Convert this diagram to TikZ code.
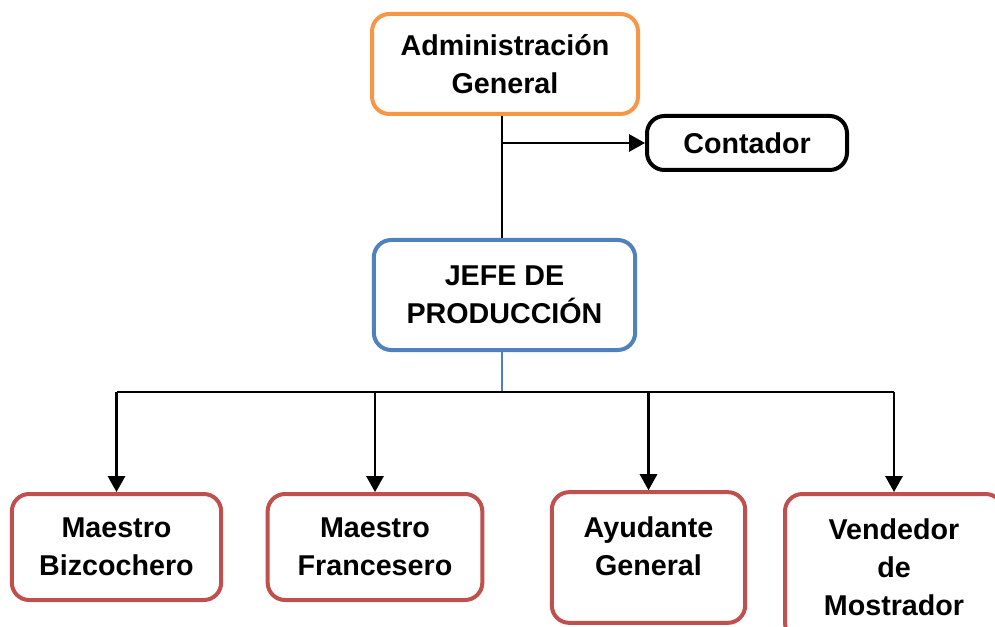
\documentclass[tikz,border=0pt]{standalone}
\usepackage{fontspec}
\setmainfont{Liberation Sans}
\usetikzlibrary{arrows.meta}

\definecolor{naranja}{HTML}{F79646}
\definecolor{azul}{HTML}{4F81BD}
\definecolor{rojo}{HTML}{C0504D}

\tikzset{
	caja/.style={draw, rounded corners=13pt, line width=3pt, align=center, inner sep=0pt,
		font=\fontsize{21.5}{28.5}\selectfont\bfseries},
	flecha/.style={line width=1.6pt, -{Triangle[length=12pt,width=13pt]}}
}

\begin{document}
\begin{tikzpicture}[x=0.75pt, y=-0.75pt]
	\useasboundingbox (0,0) rectangle (995,627);
	\clip (0,0) rectangle (995,627);
	\node[caja, naranja, text=black, minimum width=199.5pt, minimum height=75pt](admin) at (505,64){Administración\\General};
	\node[caja, black, minimum width=150pt, minimum height=40.5pt](contador) at (747,143){Contador};
	\node[caja, azul, text=black, minimum width=196pt, minimum height=82.5pt](jefe) at (504.5,295){JEFE DE\\PRODUCCIÓN};
	\node[caja, rojo, text=black, minimum width=157pt, minimum height=79.5pt](bizco) at (116.5,547){Maestro\\Bizcochero};
	\node[caja, rojo, text=black, minimum width=161pt, minimum height=79.5pt](franc) at (375,547){Maestro\\Francesero};
	\node[caja, rojo, text=black, minimum width=145pt, minimum height=98pt, text depth=17pt](ayud) at (648.5,557.5){Ayudante\\General};
	\node[caja, rojo, text=black, minimum width=163.5pt, minimum height=109.5pt](vend) at (894,567){Vendedor\\de\\Mostrador};
	\coordinate(rama) at (502,143);
	\coordinate(bus) at (502,392);
	\draw [line width=1.5pt] (admin.south -| rama) -- (jefe.north -| rama);
	\draw [flecha] (rama) -- (contador);
	\draw [azul, line width=1.2pt] (jefe.south -| bus) -- (bus);
	\draw [line width=1.3pt] (bizco.north |- bus) -- (vend.north |- bus);
	\foreach \n in {bizco, franc, ayud, vend}
		\draw [flecha] (\n.north |- bus) -- (\n.north);
\end{tikzpicture}
\end{document}
